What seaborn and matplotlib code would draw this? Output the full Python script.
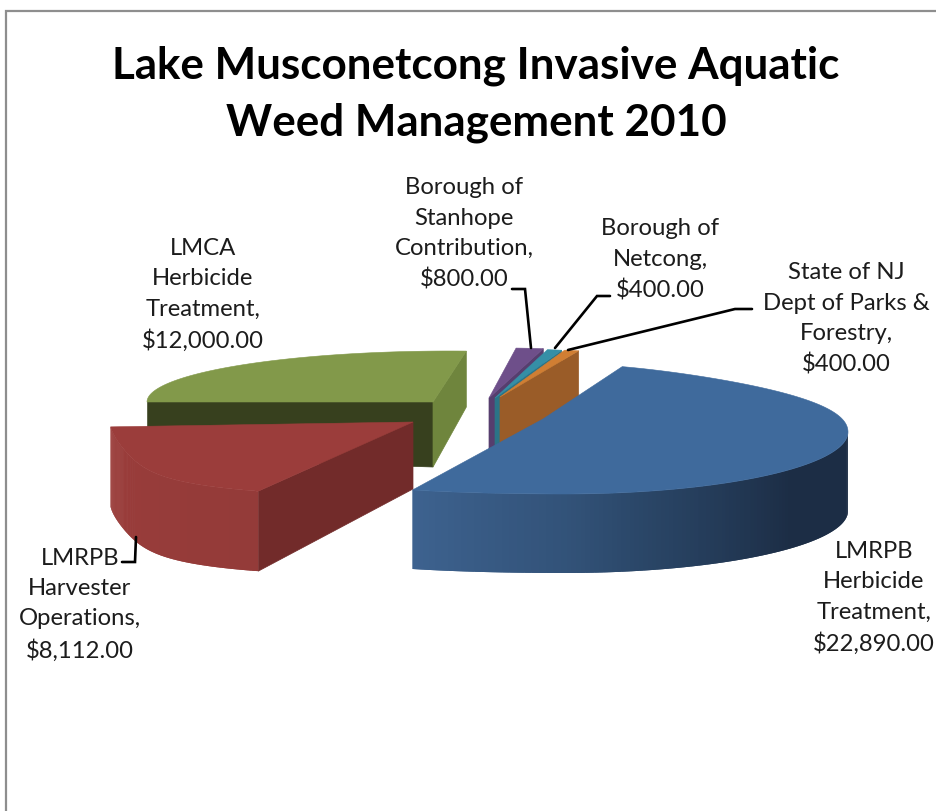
import numpy as np
import matplotlib
matplotlib.use("Agg")
import matplotlib.pyplot as plt
import seaborn as sns

# ---- data ----
title_lines = ["Lake Musconetcong Invasive Aquatic", "Weed Management 2010"]
categories = ["LMRPB\nHerbicide\nTreatment,", "LMRPB\nHarvester\nOperations,",
              "LMCA\nHerbicide\nTreatment,", "Borough of\nStanhope\nContribution,",
              "Borough of\nNetcong,", "State of NJ\nDept of Parks &\nForestry,"]
values = [22890, 8112, 12000, 800, 400, 400]

# ---- style / layout ----
sns.set_theme(style="white")
plt.rcParams["font.family"] = ["Lato", "DejaVu Sans"]
FIRST_ANGLE = 16.0

top_cols = ["#3F6A9C", "#9B3D3B", "#82994A", "#6E4F8A", "#358FA6", "#D07E33"]
end_wall = [None, None, "#6F853D", "#563E6E", "#2B7487", "#9A5C28"]
start_wall = [None, "#722B2A", "#37401E", None, None, None]
outer_wall = [["#1C2D45", "#1C2D45", "#2A4667", "#3D628F"],
              ["#943B39", "#9B3D3B"], None, None, None, None]
outer_from = [90, None, None, None, None, None]
geom = [
    dict(a=(543, 420), c=(565, 433), rx=283, ryn=62, ryf=68, near=.636, far=.30, d=79, da=79),
    dict(a=(413, 423), c=(413, 423), rx=303, ryn=74, ryf=0, near=.54, far=0, d=80, da=67),
    dict(a=(433, 403), c=(450, 403), rx=303, ryn=0, ryf=51, near=0, far=0, d=56, da=65),
    dict(a=(489, 399), c=(503, 399), rx=243, ryn=0, ryf=50, near=0, far=0, d=50, da=54),
    dict(a=(495, 399), c=(505, 399), rx=256, ryn=0, ryf=49, near=0, far=0, d=48, da=52),
    dict(a=(500, 398), c=(508, 398), rx=256, ryn=0, ryf=48, near=0, far=0, d=47, da=50),
]
label_pos = [(874, 598), (80, 605), (203, 295), (464, 234), (660, 260), (846, 319)]
leaders = [None,
           [(122, 563), (135, 563), (136, 538)],
           None,
           [(512, 290), (525, 290), (531, 349)],
           [(610, 297), (597, 297), (555, 349)],
           [(752, 310), (735, 310), (568, 351)]]


def rim(theta_deg, g):
    t = np.radians(np.asarray(theta_deg, dtype=float))
    X, Z = np.sin(t), -np.cos(t)
    # the near side spreads outwards only on the left of the slice's centre
    f = np.where(Z > 0,
                 np.where(X < 0, 1 + g["near"] * np.abs(Z) ** 3, 1.0),
                 1 - g["far"] * np.abs(Z) ** 3)
    x = g["c"][0] + g["rx"] * X * f
    y = g["c"][1] + np.where(Z > 0, g["ryn"], g["ryf"]) * Z
    return np.column_stack([x, y])


def quad_wall(ax, p, g, col, z):
    ax_, ay_ = g["a"]
    ax.fill([ax_, p[0], p[0], ax_], [ay_, p[1], p[1] + g["d"], ay_ + g["da"]],
            color=col, lw=0.5, zorder=z)


fig = plt.figure(figsize=(9.37, 8.12), dpi=100, facecolor="white")
ax = fig.add_axes([0, 0, 1, 1])
ax.set_xlim(0, 937)
ax.set_ylim(812, 0)
ax.axis("off")

shares = np.array(values) / np.sum(values) * 360
starts = FIRST_ANGLE + np.concatenate([[0], np.cumsum(shares)[:-1]])
ends = starts + shares

draw_order = [2, 3, 4, 5, 1, 0]
z = 2
N = 120
for i in draw_order:
    g = geom[i]
    th = np.linspace(starts[i], ends[i], 200)
    pts = rim(th, g)
    z += 1
    if start_wall[i]:
        quad_wall(ax, pts[0], g, start_wall[i], z)
    if end_wall[i]:
        quad_wall(ax, pts[-1], g, end_wall[i], z)
    if outer_wall[i]:
        lo = outer_from[i] if outer_from[i] is not None else starts[i]
        edges = np.linspace(lo, ends[i], N + 1)
        cols = sns.blend_palette(outer_wall[i], n_colors=N)
        # each band runs on under the next one, so no seams show between them
        for k in range(N):
            stop = edges[min(k + 2, N)]
            seg = rim(np.linspace(edges[k], stop, 6), g)
            xs = np.r_[seg[:, 0], seg[::-1, 0]]
            ys = np.r_[seg[:, 1], seg[::-1, 1] + g["d"]]
            ax.fill(xs, ys, color=cols[k], lw=0, zorder=z)
    z += 1
    ax.fill(np.r_[g["a"][0], pts[:, 0]], np.r_[g["a"][1], pts[:, 1]],
            color=top_cols[i], lw=0.4, zorder=z)

# frame
ax.plot([6, 6, 937], [812, 12, 12], color="#8E8E8E", lw=1.6, solid_joinstyle="miter", zorder=1)

# leaders
for seg in leaders:
    if seg:
        ax.plot(*zip(*seg), color="black", lw=1.9, zorder=30, solid_joinstyle="miter")

# labels
for name, v, (x, y) in zip(categories, values, label_pos):
    ax.text(x, y, f"{name}\n${v:,.2f}", ha="center", va="center", fontsize=17.2,
            color="#1c1c1c", linespacing=1.55, zorder=31)

# title
for line, y in zip(title_lines, (66, 123)):
    ax.text(476, y, line, ha="center", va="center", fontsize=31.7, fontweight="bold",
            color="black", zorder=31)

fig.savefig("out.png", dpi=100)
